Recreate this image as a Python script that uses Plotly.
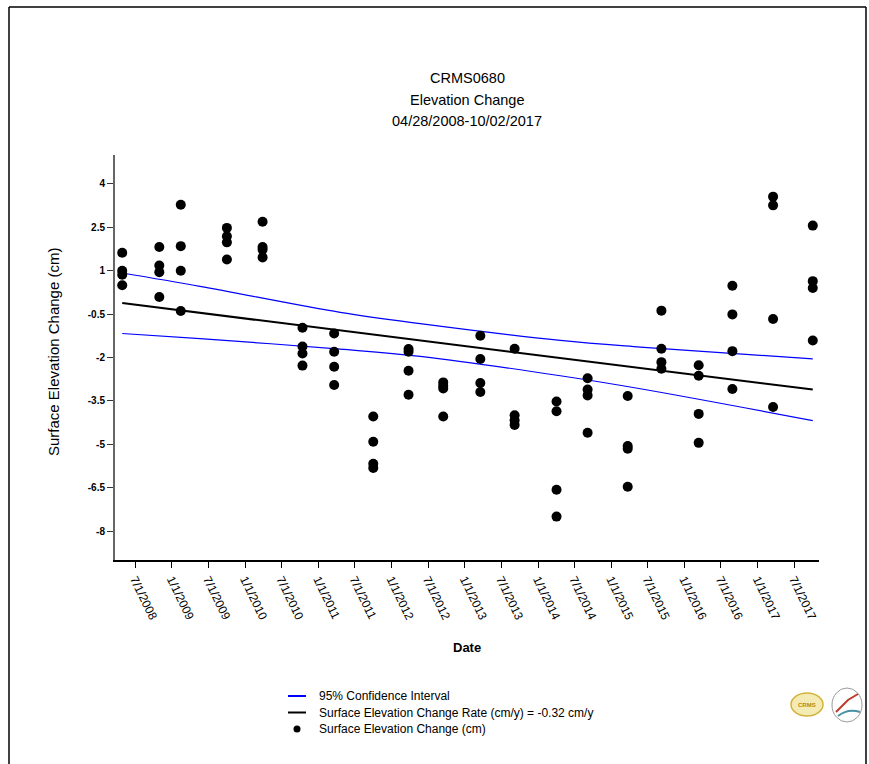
import plotly.graph_objects as go

# ---------------- data ----------------
sample_dates = [
    "2008-04-28", "2008-10-30", "2009-02-14", "2009-10-02", "2010-03-29",
    "2010-10-14", "2011-03-21", "2011-10-02", "2012-03-26", "2012-09-15",
    "2013-03-19", "2013-09-06", "2014-04-03", "2014-09-05", "2015-03-24",
    "2015-09-08", "2016-03-12", "2016-08-27", "2017-03-18", "2017-10-02",
]
elev_values = [
    [1.62, 1.00, 0.86, 0.50],
    [1.82, 1.18, 0.95, 0.09],
    [3.28, 1.85, 1.00, -0.39],
    [2.48, 2.19, 1.98, 1.39],
    [2.69, 1.82, 1.73, 1.46],
    [-0.97, -1.62, -1.86, -2.28],
    [-1.17, -1.80, -2.32, -2.95],
    [-4.04, -4.91, -5.67, -5.82],
    [-1.71, -1.80, -2.46, -3.29],
    [-2.86, -2.98, -3.07, -4.04],
    [-1.25, -2.05, -2.88, -3.19],
    [-1.70, -4.00, -4.17, -4.33],
    [-3.52, -3.86, -6.57, -7.50],
    [-2.72, -3.11, -3.31, -4.60],
    [-3.33, -5.06, -5.15, -6.47],
    [-0.38, -1.70, -2.16, -2.39],
    [-2.27, -2.63, -3.95, -4.95],
    [0.48, -0.51, -1.78, -3.09],
    [3.56, 3.26, -0.67, -3.71],
    [2.56, 0.64, 0.40, -1.41],
]

rate_dates = ["2008-04-28", "2017-10-02"]
rate_values = [-0.12, -3.11]

ci_dates = ["2008-04-28", "2009-05-21", "2011-04-20", "2012-05-23",
            "2014-04-22", "2015-05-26", "2017-10-02"]
ci_upper = [0.92, 0.46, -0.44, -0.83, -1.41, -1.64, -2.05]
ci_lower = [-1.17, -1.35, -1.71, -1.96, -2.63, -3.08, -4.18]

x_tick_dates = ["2008-07-01", "2009-01-01", "2009-07-01", "2010-01-01", "2010-07-01",
                "2011-01-01", "2011-07-01", "2012-01-01", "2012-07-01", "2013-01-01",
                "2013-07-01", "2014-01-01", "2014-07-01", "2015-01-01", "2015-07-01",
                "2016-01-01", "2016-07-01", "2017-01-01", "2017-07-01"]
x_tick_labels = ["7/1/2008", "1/1/2009", "7/1/2009", "1/1/2010", "7/1/2010",
                 "1/1/2011", "7/1/2011", "1/1/2012", "7/1/2012", "1/1/2013",
                 "7/1/2013", "1/1/2014", "7/1/2014", "1/1/2015", "7/1/2015",
                 "1/1/2016", "7/1/2016", "1/1/2017", "7/1/2017"]
y_tick_values = [4, 2.5, 1, -0.5, -2, -3.5, -5, -6.5, -8]
y_tick_labels = ["4", "2.5", "1", "-0.5", "-2", "-3.5", "-5", "-6.5", "-8"]

title_lines = ["CRMS0680", "Elevation Change", "04/28/2008-10/02/2017"]
legend_names = ["95% Confidence Interval",
                "Surface Elevation Change Rate (cm/y) = -0.32 cm/y",
                "Surface Elevation Change (cm)"]

# ---------------- layout geometry ----------------
W, H = 869, 764
L, R, T, B = 115, 819, 155, 560
FONT = "Arial, Liberation Sans, sans-serif"


def px(xp):
    return (xp - L) / (R - L)


def py(yp):
    return (B - yp) / (B - T)


pts_x, pts_y = [], []
for d, vals in zip(sample_dates, elev_values):
    for v in vals:
        pts_x.append(d)
        pts_y.append(v)

fig = go.Figure()
fig.add_trace(go.Scatter(x=ci_dates, y=ci_upper, mode="lines", line_shape="spline",
                         line=dict(color="#0000ff", width=1.2), name=legend_names[0]))
fig.add_trace(go.Scatter(x=ci_dates, y=ci_lower, mode="lines", line_shape="spline",
                         line=dict(color="#0000ff", width=1.2), name=legend_names[0]))
fig.add_trace(go.Scatter(x=rate_dates, y=rate_values, mode="lines",
                         line=dict(color="black", width=2), name=legend_names[1]))
fig.add_trace(go.Scatter(x=pts_x, y=pts_y, mode="markers",
                         marker=dict(color="black", size=10), name=legend_names[2]))

shapes = [
    # outer frame
    dict(type="line", xref="paper", yref="paper", x0=px(9), x1=px(9), y0=py(7), y1=py(764),
         line=dict(color="black", width=1.5)),
    dict(type="line", xref="paper", yref="paper", x0=px(9), x1=px(866), y0=py(7), y1=py(7),
         line=dict(color="black", width=1.5)),
    dict(type="line", xref="paper", yref="paper", x0=px(866), x1=px(866), y0=py(7), y1=py(764),
         line=dict(color="black", width=1.5)),
    # legend symbols
    dict(type="line", xref="paper", yref="paper", x0=px(288), x1=px(306), y0=py(696), y1=py(696),
         line=dict(color="#0000ff", width=2)),
    dict(type="line", xref="paper", yref="paper", x0=px(288), x1=px(306), y0=py(712.5), y1=py(712.5),
         line=dict(color="black", width=2)),
    dict(type="circle", xref="paper", yref="paper", x0=px(293.5), x1=px(300.5), y0=py(725.5), y1=py(732.5),
         fillcolor="black", line=dict(color="black", width=0)),
    # CRMS logo approximation
    dict(type="circle", xref="paper", yref="paper", x0=px(791), x1=px(823), y0=py(693), y1=py(716),
         fillcolor="#f4ebb4", line=dict(color="#d4b23a", width=1.5)),
    # second logo approximation
    dict(type="circle", xref="paper", yref="paper", x0=px(832), x1=px(862), y0=py(688), y1=py(722),
         fillcolor="white", line=dict(color="#9a9a9a", width=1)),
    dict(type="path", xref="paper", yref="paper",
         path=f"M {px(836)} {py(712)} L {px(848)} {py(700)} L {px(858)} {py(694)}",
         line=dict(color="#c0392b", width=2)),
    dict(type="path", xref="paper", yref="paper",
         path=f"M {px(838)} {py(716)} Q {px(848)} {py(708)} {px(860)} {py(712)}",
         line=dict(color="#4a90a4", width=2)),
]

annotations = [
    dict(text="Date", xref="paper", yref="paper", x=px(467), y=py(647),
         xanchor="center", yanchor="middle", showarrow=False,
         font=dict(family=FONT, size=13, color="black", weight="bold")),
    dict(text="Surface Elevation Change (cm)", xref="paper", yref="paper", x=px(53), y=py(352),
         xanchor="center", yanchor="middle", showarrow=False, textangle=-90,
         font=dict(family=FONT, size=15, color="black")),
    dict(text="<b>CRMS</b>", xref="paper", yref="paper", x=px(807), y=py(705),
         xanchor="center", yanchor="middle", showarrow=False,
         font=dict(family=FONT, size=6, color="#b8860b")),
]
for line, yrow in zip(title_lines, [78, 100, 121]):
    annotations.append(dict(text=line, xref="paper", yref="paper", x=px(467), y=py(yrow),
                            xanchor="center", yanchor="middle", showarrow=False,
                            font=dict(family=FONT, size=14.5, color="black")))
for name, yrow in zip(legend_names, [696, 712.5, 729]):
    annotations.append(dict(text=name, xref="paper", yref="paper", x=px(317), y=py(yrow),
                            xanchor="left", yanchor="middle", showarrow=False,
                            font=dict(family=FONT, size=12, color="black")))

fig.update_layout(
    width=W, height=H,
    margin=dict(l=L, r=W - R, t=T, b=H - B, autoexpand=False),
    paper_bgcolor="white", plot_bgcolor="white",
    font=dict(family=FONT, color="black"),
    showlegend=False,
    shapes=shapes,
    annotations=annotations,
    xaxis=dict(type="date", range=["2008-03-23", "2017-11-02"],
               tickvals=x_tick_dates, ticktext=x_tick_labels, tickangle=64,
               tickfont=dict(family=FONT, size=12, color="black"),
               ticks="outside", ticklen=6, tickcolor="black", tickwidth=1,
               showline=True, linecolor="black", linewidth=1.5,
               showgrid=False, zeroline=False, mirror=False),
    yaxis=dict(range=[-9, 5], tickvals=y_tick_values, ticktext=y_tick_labels,
               tickfont=dict(family=FONT, size=10, color="black", weight="bold"),
               ticks="outside", ticklen=6, tickcolor="#333333", tickwidth=1,
               showline=True, linecolor="#666666", linewidth=2,
               showgrid=False, zeroline=False, mirror=False),
)

fig.write_html("out.html", config={"displayModeBar": False},
               post_script="document.body.style.margin='0px';")
